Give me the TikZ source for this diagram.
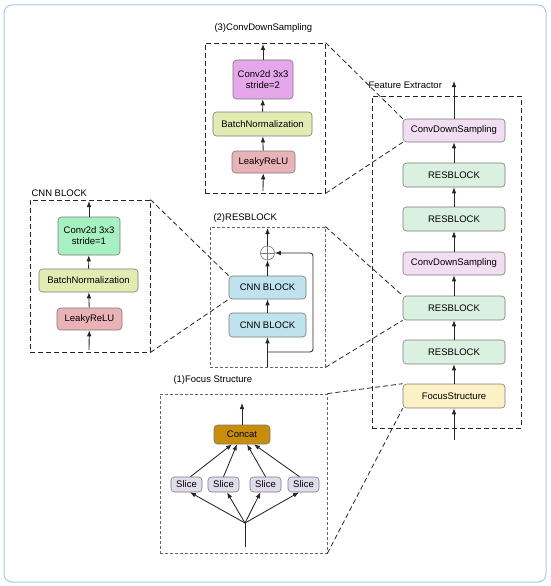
\documentclass[tikz,border=0pt]{standalone}
\usepackage{fontspec}
\setmainfont{Liberation Sans}
\usetikzlibrary{arrows.meta}
\definecolor{framec}{HTML}{A6CBE8}
\definecolor{edgec}{HTML}{7A7A7A}
\definecolor{convtwo}{HTML}{E6A6EA}
\definecolor{convone}{HTML}{A6F0C2}
\definecolor{bnc}{HTML}{E2ECB2}
\definecolor{reluc}{HTML}{E8B2B6}
\definecolor{cnnc}{HTML}{BEE2EE}
\definecolor{cdsc}{HTML}{F2DEF2}
\definecolor{resc}{HTML}{DAF0E0}
\definecolor{focc}{HTML}{FCF0C6}
\definecolor{concatc}{HTML}{C88E0A}
\definecolor{slicec}{HTML}{E0DCEC}
\begin{document}
\begin{tikzpicture}[x=1pt,y=-1pt,
    font=\fontsize{9.5}{11}\selectfont,
    blk/.style={draw=edgec, line width=0.6pt, rounded corners=3.5pt, inner sep=0pt, align=center},
    arr/.style={-{Latex[length=6pt,width=4.6pt]}, line width=0.85pt, black!85},
    bigbox/.style={draw=black!85, dash pattern=on 5pt off 3pt, line width=0.9pt, inner sep=0pt},
    smallbox/.style={draw=black!60, dash pattern=on 3pt off 2pt, line width=0.8pt, inner sep=0pt},
    zoomline/.style={draw=black!85, dash pattern=on 5pt off 3pt, line width=0.8pt}]
  \useasboundingbox (0,0) rectangle (550,586);
  \draw[framec, line width=1pt, rounded corners=8pt] (4,5) rectangle (546,582);

  % feature extractor
  \node[bigbox, minimum width=149, minimum height=332] (fext) at (446.5,262) {};
  \node[anchor=west] (fextlbl) at (365,85) {Feature Extractor};
  \node[blk, fill=cdsc, minimum width=102, minimum height=23] (fcds1) at (454,130.5) {ConvDownSampling};
  \node[blk, fill=resc, minimum width=102, minimum height=24] (fres1) at (454,175) {RESBLOCK};
  \node[blk, fill=resc, minimum width=102, minimum height=24] (fres2) at (454,219) {RESBLOCK};
  \node[blk, fill=cdsc, minimum width=102, minimum height=23] (fcds2) at (454,263.5) {ConvDownSampling};
  \node[blk, fill=resc, minimum width=102, minimum height=24] (fres3) at (454,308) {RESBLOCK};
  \node[blk, fill=resc, minimum width=102, minimum height=24] (fres4) at (454,352) {RESBLOCK};
  \node[blk, fill=focc, minimum width=102, minimum height=24] (ffocus) at (454,396) {FocusStructure};
  \coordinate (fin) at (454,440);
  \coordinate (fout) at (454,81);
  \draw[arr] (fin) -- (ffocus);
  \draw[arr] (ffocus) -- (fres4);
  \draw[arr] (fres4) -- (fres3);
  \draw[arr] (fres3) -- (fcds2);
  \draw[arr] (fcds2) -- (fres2);
  \draw[arr] (fres2) -- (fres1);
  \draw[arr] (fres1) -- (fcds1);
  \draw[arr] (fcds1) -- (fout);

  % (3) conv down sampling
  \node[bigbox, minimum width=120, minimum height=150] (box3) at (265,118) {};
  \node[anchor=west] (box3lbl) at (211,28) {(3)ConvDownSampling};
  \node[blk, fill=convtwo, minimum width=60, minimum height=39] (c3conv) at (263,79.5) {Conv2d 3x3\\stride=2};
  \node[blk, fill=bnc, minimum width=99, minimum height=24] (c3bn) at (262.5,124) {BatchNormalization};
  \node[blk, fill=reluc, minimum width=63, minimum height=22] (c3relu) at (263.5,162) {LeakyReLU};
  \coordinate (c3in) at (263,191);
  \coordinate (c3out) at (263,44);
  \draw[arr] (c3in) -- (c3relu);
  \draw[arr] (c3relu) -- (c3bn);
  \draw[arr] (c3bn) -- (c3conv);
  \draw[arr] (c3conv) -- (c3out);

  % cnn block
  \node[bigbox, minimum width=120, minimum height=152] (cbbox) at (90,276) {};
  \node[anchor=west] (cblbl) at (28,193) {CNN BLOCK};
  \node[blk, fill=convone, minimum width=62, minimum height=38] (cbconv) at (89,236) {Conv2d 3x3\\stride=1};
  \node[blk, fill=bnc, minimum width=99, minimum height=23] (cbbn) at (88.5,280.5) {BatchNormalization};
  \node[blk, fill=reluc, minimum width=65, minimum height=22] (cbrelu) at (89.5,319) {LeakyReLU};
  \coordinate (cbin) at (89,350);
  \coordinate (cbout) at (89,201);
  \draw[arr] (cbin) -- (cbrelu);
  \draw[arr] (cbrelu) -- (cbbn);
  \draw[arr] (cbbn) -- (cbconv);
  \draw[arr] (cbconv) -- (cbout);

  % (2) resblock
  \node[smallbox, minimum width=115, minimum height=140] (box2) at (267.5,297) {};
  \node[anchor=west] (box2lbl) at (210,218) {(2)RESBLOCK};
  \node[blk, fill=cnnc, minimum width=77, minimum height=23] (rcnn1) at (267.5,287.5) {CNN BLOCK};
  \node[blk, fill=cnnc, minimum width=77, minimum height=24] (rcnn2) at (267.5,325) {CNN BLOCK};
  \node[circle, draw=edgec, line width=0.6pt, minimum size=14, inner sep=0pt,
    path picture={\draw[edgec, line width=0.6pt] (path picture bounding box.north) -- (path picture bounding box.south)
      (path picture bounding box.west) -- (path picture bounding box.east);}] (rplus) at (267.5,253) {};
  \coordinate (rin) at (267.5,367);
  \coordinate (rsplit) at (267.5,352);
  \coordinate (rright) at (313,352);
  \coordinate (rout) at (267.5,228);
  \draw[arr] (rin) -- (rcnn2);
  \draw[arr] (rcnn2) -- (rcnn1);
  \draw[arr] (rcnn1) -- (rplus);
  \draw[arr] (rplus) -- (rout);
  \draw[arr, rounded corners=3pt] (rsplit) -- (rright) |- (rplus.east);

  % (1) focus structure
  \node[smallbox, minimum width=167, minimum height=159] (box1) at (243.5,473.5) {};
  \node[anchor=west] (box1lbl) at (170,380) {(1)Focus Structure};
  \node[blk, fill=concatc, minimum width=56, minimum height=19] (concat) at (242,434.5) {Concat};
  \node[blk, fill=slicec, minimum width=31, minimum height=15] (s1) at (186.5,484.5) {Slice};
  \node[blk, fill=slicec, minimum width=31, minimum height=15] (s2) at (223.5,484.5) {Slice};
  \node[blk, fill=slicec, minimum width=31, minimum height=15] (s3) at (265.5,484.5) {Slice};
  \node[blk, fill=slicec, minimum width=31, minimum height=15] (s4) at (303.5,484.5) {Slice};
  \coordinate (fsin) at (245,547);
  \coordinate (fsjoin) at (245,523);
  \coordinate (fsout) at (242,403);
  \draw[line width=0.85pt, black!85] (fsin) -- (fsjoin);
  \draw[arr] (fsjoin) -- ([xshift=3.5]s1.south);
  \draw[arr] (fsjoin) -- ([xshift=3.5]s2.south);
  \draw[arr] (fsjoin) -- ([xshift=-5]s3.south);
  \draw[arr] (fsjoin) -- ([xshift=-4.5]s4.south);
  \draw[arr] ([xshift=4]s1.north) -- ([xshift=-10]concat.south);
  \draw[arr] (s2.north) -- ([xshift=-5]concat.south);
  \draw[arr] (s3.north) -- ([xshift=5]concat.south);
  \draw[arr] ([xshift=-4]s4.north) -- ([xshift=12]concat.south);
  \draw[arr] (concat) -- (fsout);

  % zoom lines
  \draw[zoomline] (box3.north east) -- (fcds1.north west);
  \draw[zoomline] (box3.south east) -- (fcds1.south west);
  \draw[zoomline] (cbbox.north east) -- (rcnn1.north west);
  \draw[zoomline] (cbbox.south east) -- (rcnn1.south west);
  \draw[zoomline] (box2.north east) -- (fres3.north west);
  \draw[zoomline] (box2.south east) -- (fres3.south west);
  \draw[zoomline] (box1.north east) -- (ffocus.north west);
  \draw[zoomline] (box1.south east) -- (ffocus.south west);
\end{tikzpicture}
\end{document}
